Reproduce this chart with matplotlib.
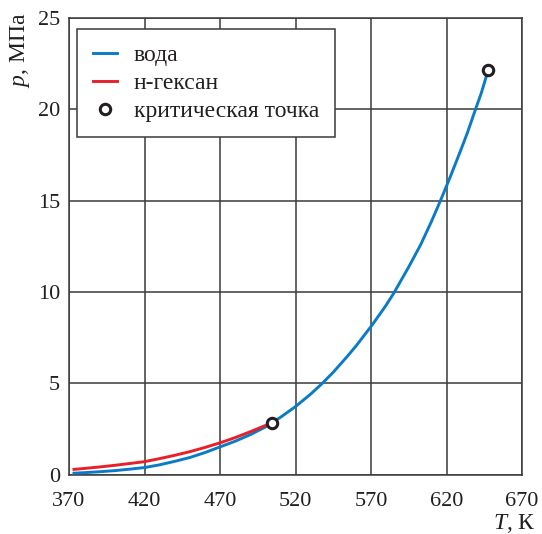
import matplotlib
matplotlib.use("Agg")
import matplotlib.pyplot as plt
from matplotlib.lines import Line2D

plt.rcParams['font.family'] = ['Liberation Serif', 'DejaVu Serif']
plt.rcParams['mathtext.fontset'] = 'custom'
plt.rcParams['mathtext.it'] = 'Liberation Serif:italic'
plt.rcParams['mathtext.rm'] = 'Liberation Serif'

# water saturation curve (T, K ; p, MPa)
water_T = [373.3, 380, 390, 400, 410, 420, 430, 440, 450, 460, 470.6, 480, 490, 500, 504.3,
           510, 520, 530, 537.6, 545, 554.1, 560, 570.7, 580, 585, 595, 602.8, 610, 616,
           622, 629.3, 634, 639.2, 643, 647.6]
water_p = [0.07, 0.10, 0.15, 0.21, 0.29, 0.38, 0.53, 0.72, 0.93, 1.20, 1.53, 1.82, 2.18, 2.60, 2.82,
           3.13, 3.72, 4.40, 4.98, 5.60, 6.45, 7.03, 8.18, 9.27, 9.92, 11.37, 12.57, 13.85, 15.0,
           16.2, 17.73, 18.75, 20.0, 20.88, 22.14]

# n-hexane saturation curve
hexane_T = [373.3, 380, 390, 400, 410, 419.7, 430, 440, 450, 460, 470.6, 480, 490, 498.2, 504.3]
hexane_p = [0.28, 0.33, 0.41, 0.50, 0.60, 0.70, 0.87, 1.05, 1.25, 1.48, 1.75, 2.02, 2.34, 2.62, 2.82]

# critical points
crit_T = [504.3, 647.6]
crit_p = [2.82, 22.14]

xticks = [370, 420, 470, 520, 570, 620, 670]
yticks = [0, 5, 10, 15, 20, 25]

fig = plt.figure(figsize=(5.42, 5.34), dpi=100)
ax = fig.add_axes([69/542, 1 - 474.5/534, (522-69)/542, (474.5-18)/534])

blue = '#0a7bc6'
red = '#e8202a'
ink = '#231f20'
gridc = '#3a3a3a'

ax.plot(water_T, water_p, color=blue, lw=2.1, zorder=3, solid_joinstyle='round')
ax.plot(hexane_T, hexane_p, color=red, lw=2.1, zorder=3, solid_joinstyle='round')
ax.plot(crit_T, crit_p, 'o', ms=7.5, mfc='white', mec=ink, mew=2.2, zorder=4)

ax.set_xlim(370, 670)
ax.set_ylim(0, 25)
ax.set_xticks(xticks)
ax.set_yticks(yticks)
ax.grid(True, color=gridc, lw=1.1)
ax.set_axisbelow(True)
ax.tick_params(length=0, labelsize=16, colors=ink)
ax.tick_params(axis='x', pad=12.5)
ax.tick_params(axis='y', pad=6.5)
for s in ax.spines.values():
    s.set_color(gridc)
    s.set_linewidth(1.1)

ax.text(-0.108, 1.011, r'$p$, МПа', transform=ax.transAxes, rotation=90,
        ha='center', va='top', fontsize=17, color=ink)
ax.text(1.03, -0.1194, r'$T$, К', transform=ax.transAxes,
        ha='right', va='baseline', fontsize=17, color=ink)

handles = [
    Line2D([], [], color=blue, lw=2.1),
    Line2D([], [], color=red, lw=2.1),
    Line2D([], [], ls='none', marker='o', ms=7.5, mfc='white', mec=ink, mew=2.2),
]
labels = ['вода', 'н-гексан', 'критическая точка']
leg = ax.legend(handles, labels, loc='upper left', bbox_to_anchor=(0.018, 0.976),
                fontsize=17, frameon=True, fancybox=False, framealpha=1,
                edgecolor=gridc, handlelength=1.02, handletextpad=0.72,
                borderpad=0.66, labelspacing=0.27, borderaxespad=0)
for t in leg.get_texts():
    t.set_color(ink)
leg.get_frame().set_linewidth(1.1)

fig.savefig('out.png', dpi=100)
